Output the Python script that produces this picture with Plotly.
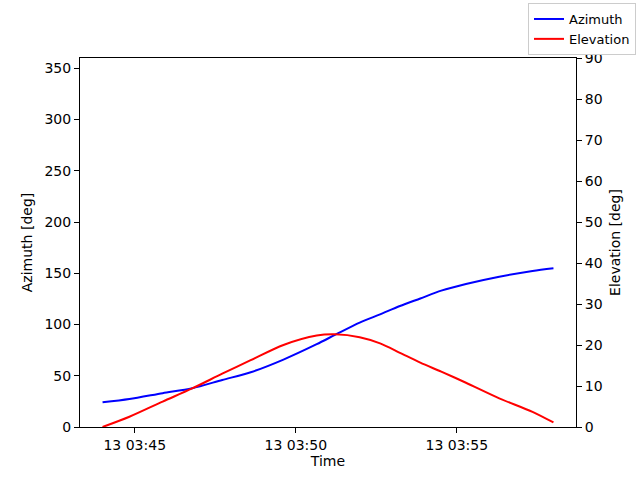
import pandas as pd
import plotly.graph_objects as go

# Pass track (date part only shows the day "13")
day = "2024-01-13"
times = ["03:44:00", "03:44:50", "03:45:52", "03:46:47", "03:47:43", "03:48:36",
         "03:49:37", "03:50:39", "03:51:13", "03:51:59", "03:52:37", "03:53:14",
         "03:53:52", "03:54:31", "03:55:17", "03:56:19", "03:57:21", "03:58:00"]
azimuth = [24.1, 27.3, 33.0, 37.8, 45.9, 53.4, 65.8, 80.8, 89.8, 101.8, 109.9,
           118.0, 125.4, 133.0, 139.5, 146.6, 152.2, 154.8]
elevation = [0, 2.5, 6.2, 9.4, 13.0, 16.3, 20.0, 22.3, 22.6, 21.9, 20.4,
             18.1, 15.7, 13.5, 10.8, 7.0, 3.7, 1.1]
tick_times = ["03:45", "03:50", "03:55"]

t = pd.to_datetime([f"{day} {s}" for s in times])
tick_vals = pd.to_datetime([f"{day} {s}" for s in tick_times])
tick_text = [v.strftime("%d %H:%M") for v in tick_vals]

# matplotlib-style 5% margins on the time axis
span = t[-1] - t[0]
x_range = [t[0] - span * 0.05, t[-1] + span * 0.05]

font = dict(family="DejaVu Sans", size=14, color="black")

fig = go.Figure()

fig.add_trace(go.Scatter(
    x=t, y=azimuth, mode="lines", name="Azimuth",
    line=dict(color="blue", width=2, shape="spline", smoothing=0.8)
))
fig.add_trace(go.Scatter(
    x=t, y=elevation, mode="lines", name="Elevation", yaxis="y2",
    line=dict(color="red", width=2, shape="spline", smoothing=0.8)
))

axis_common = dict(showgrid=False, zeroline=False, showline=True, linecolor="black",
                   linewidth=1, ticks="outside", ticklen=5, tickcolor="black",
                   tickfont=font, automargin=False)

fig.update_layout(
    width=640, height=480,
    margin=dict(l=80, r=64, t=58, b=53, autoexpand=False),
    paper_bgcolor="white", plot_bgcolor="white",
    font=font,
    showlegend=True,
    legend=dict(x=1.121, y=1.149, xanchor="right", yanchor="top",
                bordercolor="#cccccc", borderwidth=1, bgcolor="white",
                font=dict(family="DejaVu Sans", size=13, color="black"),
                tracegroupgap=0),
    xaxis=dict(**axis_common, range=x_range, tickvals=tick_vals, ticktext=tick_text,
               mirror=True, title=dict(text="Time", font=font, standoff=4)),
    yaxis=dict(**axis_common, range=[0, 360], tickvals=list(range(0, 351, 50)),
               title=dict(text="Azimuth [deg]", font=font, standoff=8)),
    yaxis2=dict(**axis_common, range=[0, 90], tickvals=list(range(0, 91, 10)),
                overlaying="y", side="right",
                title=dict(text="Elevation [deg]", font=font, standoff=8)),
)

# drop the browser's default page margin so the figure sits at the corner
fig.write_html("out.html", config={"displayModeBar": False},
               post_script="document.body.style.margin='0';")
